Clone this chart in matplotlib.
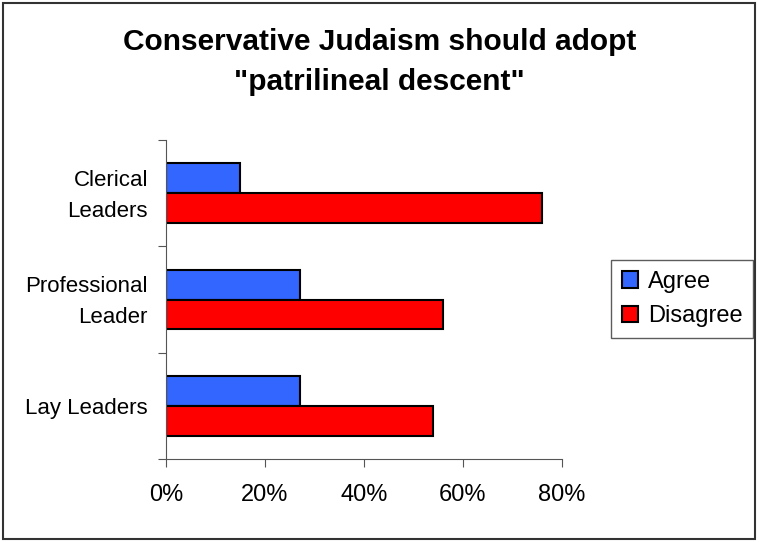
import matplotlib.pyplot as plt
import matplotlib.transforms as mtransforms
from matplotlib.patches import Rectangle
from matplotlib.ticker import PercentFormatter

# categories listed bottom to top
categories = ["Lay Leaders", "Professional\nLeader", "Clerical\nLeaders"]
agree = [27, 27, 15]
disagree = [54, 56, 76]

title = "Conservative Judaism should adopt\n\"patrilineal descent\""


def main():
    plt.rcParams['font.family'] = ['Liberation Sans', 'DejaVu Sans']
    fig = plt.figure(figsize=(7.59, 5.42), dpi=100)
    ax = fig.add_axes([166 / 759, 1 - 459 / 542, 396 / 759, 319 / 542])

    centers = [i + 0.5 for i in range(len(categories))]
    h = 0.28
    ax.barh([c + h / 2 for c in centers], agree, height=h,
            color="#3366FF", edgecolor="black", linewidth=1.5, label="Agree")
    ax.barh([c - h / 2 for c in centers], disagree, height=h,
            color="#FF0000", edgecolor="black", linewidth=1.5, label="Disagree")

    ax.set_xlim(0, 80)
    ax.set_ylim(0, len(categories))
    ax.set_xticks([0, 20, 40, 60, 80])
    ax.xaxis.set_major_formatter(PercentFormatter(decimals=0))
    ax.set_yticks(range(len(categories) + 1))
    ax.set_yticklabels([])
    ax.set_yticks(centers, minor=True)
    ax.set_yticklabels(categories, minor=True, fontsize=16, linespacing=1.65)
    ax.tick_params(axis="y", which="minor", length=0, pad=13)
    ax.tick_params(axis="y", which="major", length=6, color="#555555")
    ax.tick_params(axis="x", length=6, color="#555555", labelsize=17, pad=12)
    # two-line labels sit a little high in the original
    shift = mtransforms.ScaledTranslation(0, 5 / 100, fig.dpi_scale_trans)
    for lbl in ax.get_yticklabels(minor=True):
        if "\n" in lbl.get_text():
            lbl.set_transform(lbl.get_transform() + shift)
    for s in ["top", "right"]:
        ax.spines[s].set_visible(False)
    for s in ["left", "bottom"]:
        ax.spines[s].set_color("#555555")

    fig.text(0.5, 1 - 62 / 542, title, ha="center", va="center",
             fontsize=21.5, fontweight="bold", linespacing=1.5)

    fig.legend(loc="center", bbox_to_anchor=(682 / 759, 1 - 299 / 542),
               fontsize=17, frameon=True, fancybox=False, edgecolor="#333333",
               handlelength=0.7, handleheight=0.7, handletextpad=0.4,
               labelspacing=0.55, borderpad=0.45)

    fig.patches.append(Rectangle((3 / 759, 3 / 542), 752 / 759, 536 / 542,
                                 transform=fig.transFigure, fill=False,
                                 edgecolor="#333333", linewidth=1.5))

    fig.savefig("out.png", dpi=100)


if __name__ == "__main__":
    main()
